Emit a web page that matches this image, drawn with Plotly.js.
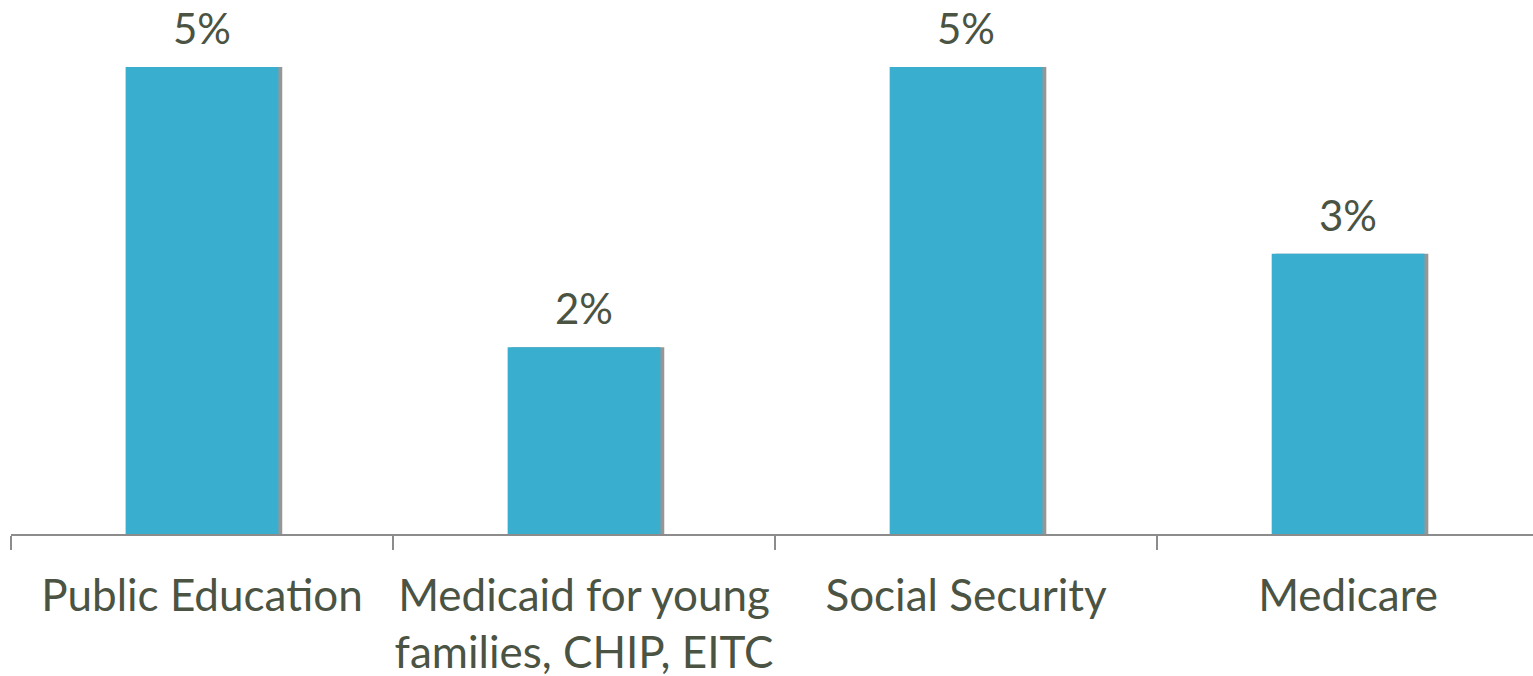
<!DOCTYPE html>
<html><head><meta charset="utf-8">
<script src="https://cdn.plot.ly/plotly-3.0.1.min.js"></script>
<style>html,body{margin:0;padding:0;background:#fff}#chart{width:1533px;height:676px}</style>
</head><body><div id="chart"></div>
<script>
const categories = ["Public Education", "Medicaid for young<br>families, CHIP, EITC", "Social Security", "Medicare"];
const values = [5, 2, 5, 3];
const labels = ["5%", "2%", "5%", "3%"];

const textColor = "#4b5343";
const fontFam = "Lato, 'Open Sans', sans-serif";

const shadow = {
  type: "bar", x: categories, y: values, width: 0.4, offset: -0.19,
  marker: {color: "rgba(80,80,80,0.6)", line: {width: 0}},
  hoverinfo: "skip", showlegend: false
};
const bars = {
  type: "bar", x: categories, y: values, width: 0.4, offset: -0.2,
  marker: {color: "#3aaecf", line: {width: 0}},
  showlegend: false
};

const layout = {
  width: 1533, height: 676,
  margin: {l: 11, r: 0, t: 0, b: 142},
  paper_bgcolor: "#fff", plot_bgcolor: "#fff",
  xaxis: {
    type: "category", range: [-0.5, 3.484],
    showline: true, linecolor: "#8c8c8c", linewidth: 2,
    ticks: "outside", ticklen: 14, tickcolor: "#8c8c8c", tickwidth: 2,
    tickson: "boundaries", showgrid: false, ticklabelstandoff: 22,
    tickangle: 0, automargin: false,
    tickfont: {family: fontFam, size: 44, color: textColor}
  },
  yaxis: {range: [0, 5.717], visible: false, showgrid: false, zeroline: false},
  annotations: categories.map((c, i) => ({
    x: c, y: values[i], text: labels[i], showarrow: false,
    yanchor: "middle", yshift: 39,
    font: {family: fontFam, size: 42, color: textColor}
  }))
};

Plotly.newPlot("chart", [shadow, bars], layout, {displayModeBar: false, staticPlot: true});
</script></body></html>
